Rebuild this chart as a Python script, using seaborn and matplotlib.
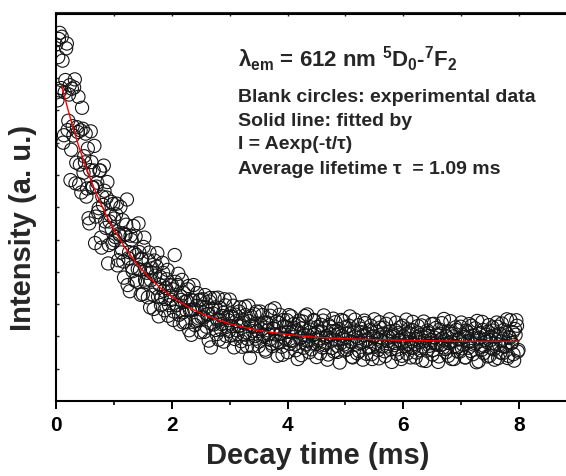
import numpy as np
import matplotlib
matplotlib.use("Agg")
import matplotlib.pyplot as plt
import seaborn as sns

# ---- data ----
t_step = 0.025      # ms between samples of one sweep
t_offset_b = 0.0125  # second sweep interleaved half a step later
intensity_a = [
    11.04, 9.31, 11.21, 9.61, 11.28, 8.00, 9.56, 10.92, 8.39, 9.49, 6.84, 9.67, 8.22, 9.96, 7.38, 8.33, 6.71, 8.38, 9.08, 7.07,
    7.39, 6.33, 7.82, 5.50, 8.35, 6.61, 7.14, 4.89, 6.64, 5.85, 7.14, 5.06, 6.33, 7.29, 5.56, 6.30, 4.26, 5.56, 6.17, 4.89,
    5.65, 5.08, 6.11, 4.36, 5.14, 4.60, 5.60, 3.82, 5.14, 6.24, 4.42, 3.40, 4.99, 4.02, 4.58, 5.10, 3.69, 5.50, 4.06, 4.41,
    3.31, 5.06, 3.69, 3.97, 4.35, 2.90, 3.98, 3.29, 4.35, 3.51, 4.58, 2.62, 3.84, 3.22, 3.97, 2.81, 3.50, 4.06, 2.97, 3.26,
    3.58, 2.51, 4.52, 2.96, 3.59, 2.67, 3.25, 3.75, 2.43, 3.07, 2.81, 3.46, 2.19, 3.13, 2.82, 3.59, 2.35, 2.94, 2.51, 3.11,
    2.13, 2.92, 2.59, 3.28, 2.30, 2.68, 3.08, 1.66, 2.85, 2.37, 2.90, 2.07, 3.20, 2.52, 2.21, 2.63, 1.84, 2.96, 2.30, 2.50,
    3.14, 2.03, 2.60, 1.66, 2.67, 2.19, 2.32, 2.90, 1.85, 2.43, 2.06, 2.66, 1.70, 2.95, 1.34, 2.34, 2.16, 2.69, 1.93, 2.40,
    1.70, 2.77, 2.22, 2.01, 2.43, 1.53, 2.38, 2.06, 2.64, 1.78, 2.25, 2.87, 1.87, 1.40, 2.42, 2.09, 1.68, 2.51, 1.96, 2.29,
    1.51, 2.66, 1.87, 2.13, 2.38, 1.75, 2.19, 1.30, 2.49, 1.97, 2.25, 1.65, 2.63, 1.87, 2.03, 1.51, 2.28, 1.78, 2.51, 2.08,
    1.36, 2.16, 1.94, 2.36, 1.66, 2.65, 1.80, 2.01, 1.44, 2.30, 1.87, 2.16, 1.53, 2.44, 1.71, 2.07, 1.19, 2.51, 1.93, 1.75,
    2.29, 1.59, 2.09, 2.62, 1.82, 1.35, 2.18, 2.00, 1.48, 2.35, 1.79, 2.13, 1.28, 2.49, 1.88, 2.08, 1.65, 2.20, 1.45, 2.00,
    2.53, 1.75, 1.93, 1.32, 2.27, 1.84, 2.09, 1.54, 2.39, 1.69, 1.96, 2.16, 1.21, 2.03, 1.80, 2.43, 1.60, 1.88, 2.28, 1.40,
    2.00, 1.70, 2.52, 1.77, 2.10, 1.35, 2.20, 1.65, 1.92, 1.50, 2.32, 1.82, 2.05, 1.26, 2.46, 1.96, 1.56, 2.11, 1.71, 1.89,
    1.44, 2.39, 1.79, 2.06, 1.21, 2.21, 1.74, 1.94, 2.54, 1.61, 2.00, 1.40, 2.15, 1.83, 2.08, 1.30, 2.28, 1.68, 1.90, 1.53,
    2.43, 1.75, 1.98, 1.35, 2.13, 1.65, 1.85, 2.33, 1.45, 2.03, 1.78, 2.48, 1.23, 1.95, 1.58, 2.20, 1.70, 2.05, 1.38, 2.35,
    1.88, 1.63, 2.18, 1.28, 2.00, 2.30, 1.75, 1.50, 2.40, 1.93, 1.68, 2.10, 1.33, 1.98, 2.50, 1.80, 1.45, 2.23, 2.50, 1.53,
]
intensity_b = [
    9.56, 10.65, 11.40, 9.69, 10.54, 8.23, 9.94, 11.07, 8.68, 9.78, 7.78, 8.51, 9.71, 6.74, 8.48, 9.42, 7.32, 6.46, 8.43, 7.58,
    8.28, 6.58, 5.66, 7.15, 7.40, 6.62, 7.90, 5.71, 6.76, 5.97, 7.14, 4.75, 6.07, 6.51, 5.36, 6.78, 4.83, 5.76, 5.33, 6.10,
    4.98, 5.78, 4.20, 5.18, 6.01, 4.71, 4.32, 5.17, 5.46, 3.59, 4.61, 5.12, 4.14, 5.42, 3.73, 4.52, 4.09, 4.61, 3.29, 4.39,
    4.77, 3.76, 4.07, 3.21, 4.60, 3.74, 4.11, 2.85, 3.88, 4.16, 3.23, 3.60, 2.97, 4.28, 3.41, 3.16, 3.77, 2.64, 3.59, 3.13,
    3.46, 2.77, 3.69, 2.98, 3.94, 2.38, 3.13, 2.74, 3.34, 2.45, 3.09, 3.56, 2.81, 2.05, 3.12, 2.84, 2.47, 3.34, 2.56, 3.14,
    2.59, 3.15, 2.14, 2.90, 2.69, 1.87, 3.19, 2.39, 2.71, 3.19, 2.20, 2.52, 1.90, 2.88, 2.38, 2.73, 3.15, 2.02, 2.60, 2.17,
    2.71, 2.32, 2.95, 1.92, 2.47, 2.08, 2.77, 2.34, 1.68, 2.49, 2.92, 2.13, 1.92, 2.47, 2.63, 1.70, 2.30, 2.01, 2.77, 2.17,
    1.84, 2.34, 2.66, 2.06, 1.59, 2.42, 2.19, 1.90, 2.81, 1.70, 2.23, 2.06, 2.46, 1.83, 2.67, 2.09, 1.43, 2.32, 1.91, 2.50,
    2.14, 1.77, 2.62, 1.87, 2.27, 1.57, 2.16, 2.39, 1.94, 1.42, 2.46, 2.04, 1.75, 2.68, 1.87, 2.21, 1.60, 2.04, 2.48, 1.77,
    2.29, 1.88, 1.48, 2.15, 2.49, 1.74, 1.96, 1.28, 2.35, 2.06, 1.64, 2.55, 1.90, 2.18, 1.52, 2.23, 1.78, 2.02, 2.48, 1.57,
    2.08, 1.68, 2.33, 1.85, 1.37, 2.12, 2.52, 1.75, 1.95, 1.54, 2.24, 1.81, 2.04, 2.41, 1.46, 1.91, 1.68, 2.33, 1.30, 2.00,
    1.77, 2.15, 1.58, 2.44, 1.97, 1.69, 2.27, 1.39, 2.06, 1.86, 2.53, 1.60, 1.98, 1.73, 2.18, 1.46, 2.10, 1.88, 1.30, 2.33,
    1.83, 2.07, 1.47, 2.22, 1.92, 1.65, 2.45, 1.77, 1.35, 2.12, 1.99, 1.57, 2.34, 1.69, 1.86, 1.24, 2.18, 2.01, 1.79, 2.38,
    1.58, 1.96, 2.26, 1.74, 1.38, 2.08, 2.41, 1.66, 1.88, 1.51, 2.13, 1.80, 2.47, 1.30, 2.00, 1.70, 2.20, 1.53, 1.93, 2.30,
    1.63, 1.98, 1.35, 2.18, 1.85, 2.38, 1.55, 2.03, 1.75, 2.25, 1.20, 1.93, 2.10, 1.68, 2.45, 1.48, 1.90, 1.83, 2.15, 1.40,
    2.00, 2.28, 1.60, 1.78, 2.43, 1.33, 2.08, 1.85, 1.48, 2.20, 1.70, 2.53, 1.40, 1.95, 1.80, 2.13, 1.25, 2.05, 2.33, 1.58,
]
decay_time = np.concatenate([np.arange(len(intensity_a)) * t_step,
                             t_offset_b + np.arange(len(intensity_b)) * t_step])
intensity = np.concatenate([intensity_a, intensity_b])

fit_time = [0.1, 0.2, 0.3, 0.4, 0.5, 0.6, 0.7, 0.8, 0.9, 1.0, 1.2, 1.4, 1.6, 1.8, 2.0,
            2.3, 2.6, 3.0, 3.5, 4.0, 4.5, 5.0, 5.5, 6.0, 7.0, 8.0]
fit_intensity = [9.76, 9.07, 8.43, 7.85, 7.33, 6.85, 6.41, 6.01, 5.64, 5.31, 4.73, 4.24, 3.84, 3.51, 3.23,
                 2.89, 2.64, 2.39, 2.18, 2.06, 1.97, 1.93, 1.90, 1.88, 1.85, 1.85]

x_ticks = [0, 2, 4, 6, 8]
x_tick_labels = ["0", "2", "4", "6", "8"]

# ---- style ----
sns.set_style("ticks")
plt.rcParams["font.family"] = ["Liberation Sans", "DejaVu Sans"]
plt.rcParams["font.weight"] = "bold"
plt.rcParams["mathtext.fontset"] = "custom"
plt.rcParams["mathtext.rm"] = "Liberation Sans:bold"
plt.rcParams["mathtext.bf"] = "Liberation Sans:bold"
plt.rcParams["mathtext.it"] = "Liberation Sans:bold"

W, H = 566, 476
fig = plt.figure(figsize=(W / 100, H / 100), dpi=100)
ax = fig.add_axes([56 / W, 1 - 401 / H, 1 - 56 / W, (401 - 13.5) / H])

sns.scatterplot(x=decay_time, y=intensity, ax=ax, s=90, marker="o",
                facecolor="none", edgecolor="#151515", linewidth=0.8, zorder=2)
sns.lineplot(x=fit_time, y=fit_intensity, ax=ax, color="#ff0000", linewidth=1.0,
             estimator=None, zorder=3)

ax.set_xlim(0, 510 / 57.9)
ax.set_ylim(0, 12)
ax.set_xticks(x_ticks)
ax.set_xticklabels(x_tick_labels)
ax.set_xticks([1, 3, 5, 7], minor=True)
ax.set_yticks(list(range(1, 12)))
ax.set_yticklabels([])

ax.tick_params(axis="x", which="major", direction="out", length=6, width=1.4,
               labelsize=15, pad=5, colors="black")
ax.tick_params(axis="x", which="minor", direction="out", length=3, width=1.4)
ax.tick_params(axis="y", which="major", direction="in", length=2.5, width=1.0)
for lab in ax.get_xticklabels():
    lab.set_fontweight("bold")

for side in ["left", "bottom", "top"]:
    ax.spines[side].set_linewidth(1.5)
    ax.spines[side].set_color("black")
ax.spines["right"].set_visible(False)

top = ax.secondary_xaxis("top")
top.set_xticks(list(range(0, 9)))
top.set_xticklabels([])
top.tick_params(direction="in", length=2.5, width=1.0)
top.spines["top"].set_linewidth(1.5)

ax.set_xlabel("Decay time (ms)", fontsize=21, fontweight="bold")
ax.set_ylabel("Intensity (a. u.)", fontsize=21, fontweight="bold")
ax.xaxis.set_label_coords((318 - 56) / 510, (401 - 441.5) / 387.5)
ax.yaxis.set_label_coords((37 - 56) / 510, 0.446)

x0 = 238 / W
fig.text(x0, 1 - 67 / H,
         r"λ$_{\mathrm{em}}$ = 612 nm $^{\mathrm{5}}$D$_{\mathrm{0}}$-$^{\mathrm{7}}$F$_{\mathrm{2}}$",
         fontsize=16, fontweight="bold", va="baseline", ha="left")
lines = ["Blank circles: experimental data",
         "Solid line: fitted by",
         "I = Aexp(-t/τ)",
         "Average lifetime τ  = 1.09 ms"]
baselines = [102, 126, 149, 174]
for s, yb in zip(lines, baselines):
    fig.text(x0, 1 - yb / H, s, fontsize=14, fontweight="bold", va="baseline", ha="left")

fig.savefig("out.png", dpi=100)
